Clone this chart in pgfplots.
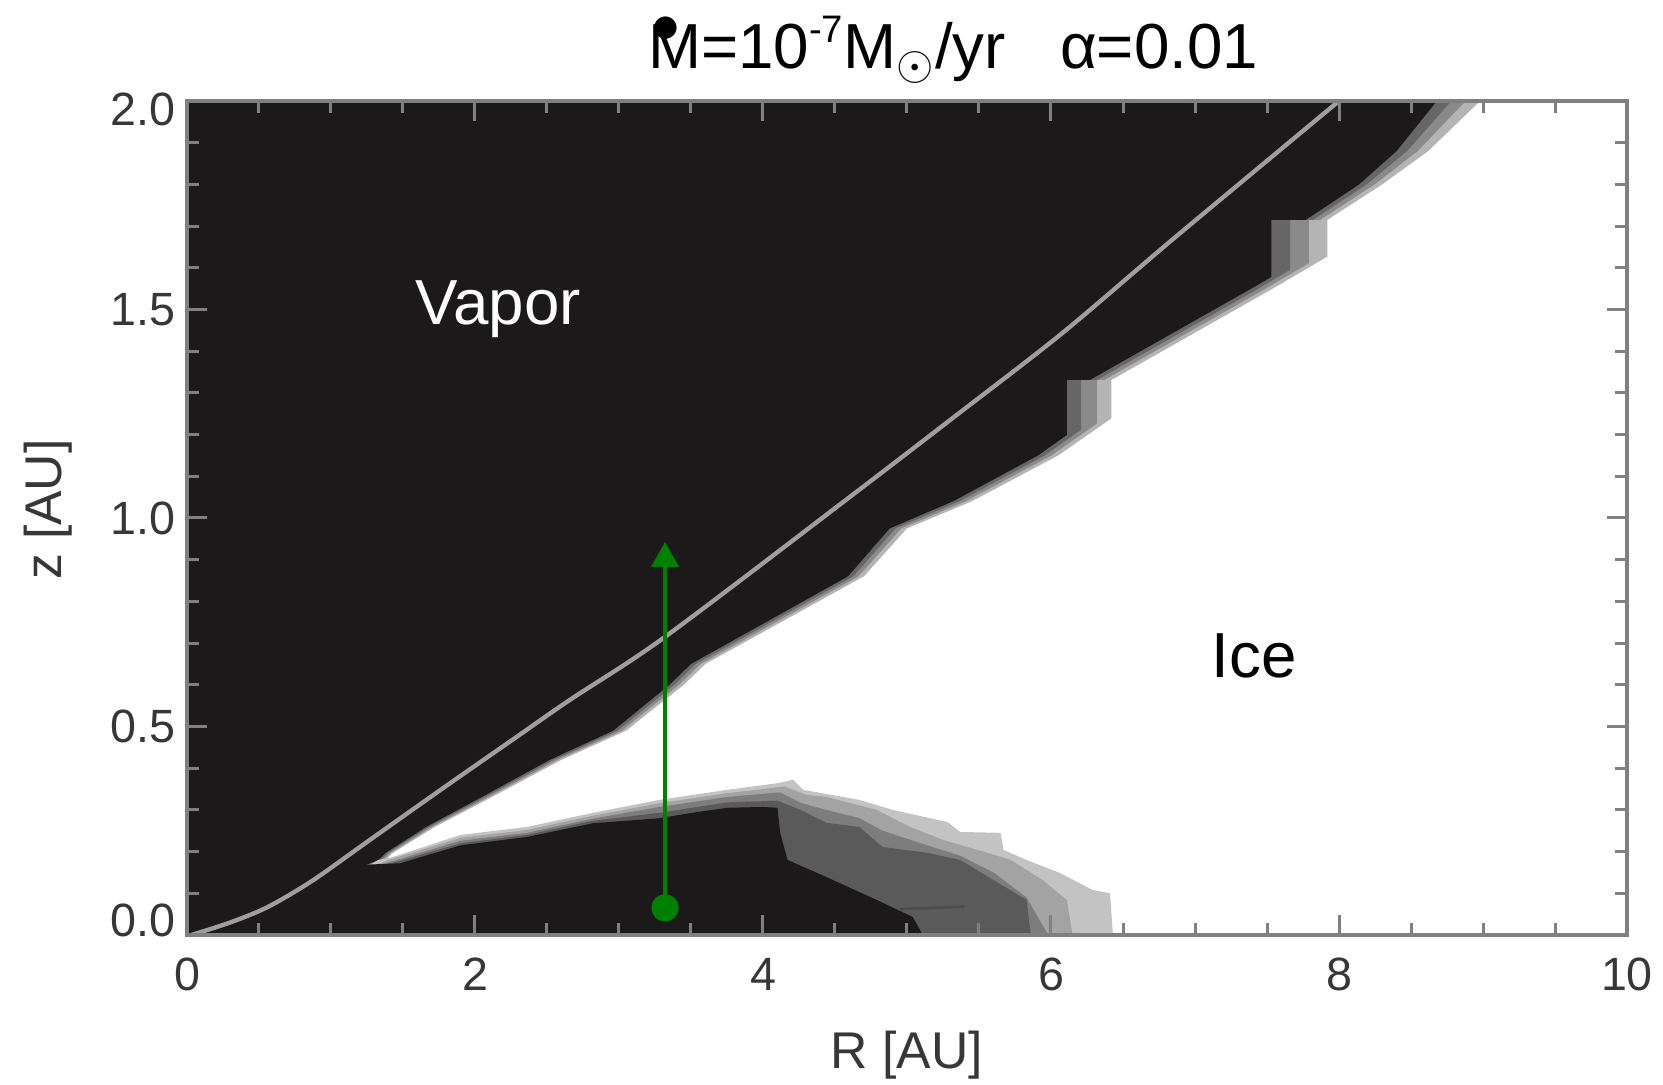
\documentclass[border=0pt]{standalone}
\usepackage{fontspec}
\setmainfont{Liberation Sans}
\usepackage{pgfplots}
\pgfplotsset{compat=1.18}
\usetikzlibrary{arrows.meta}
\definecolor{vblack}{RGB}{28,25,26}
\definecolor{frame}{RGB}{128,128,128}
\definecolor{tickc}{RGB}{55,55,55}
\definecolor{bandL}{RGB}{180,180,180}
\definecolor{bandM}{RGB}{138,138,138}
\definecolor{bandD}{RGB}{102,102,102}
\definecolor{lowA}{RGB}{195,195,195}
\definecolor{lowB}{RGB}{163,163,163}
\definecolor{lowC}{RGB}{125,125,125}
\definecolor{lowD}{RGB}{90,90,90}
\definecolor{curve}{RGB}{158,158,158}
\definecolor{arrowgreen}{RGB}{0,128,0}
\begin{document}
\begin{tikzpicture}
\path[use as bounding box] (-56.1pt,-45pt) rectangle (442.8pt,280.5pt);
\begin{axis}[
  at={(0pt,0pt)}, anchor=south west,
  scale only axis, width=432pt, height=250.2pt,
  xmin=0, xmax=10, ymin=0, ymax=2,
  axis on top,
  xtick={0,2,4,6,8,10}, xticklabels={0,2,4,6,8,10},
  minor x tick num=3,
  ytick={0,0.5,1,1.5,2}, yticklabels={,0.5,1.0,1.5,},
  minor y tick num=4,
  extra y ticks={0.036,1.98}, extra y tick labels={0.0,2.0},
  extra y tick style={major tick length=0pt},
  /pgf/number format/assume math mode=true,
  tick align=inside,
  major tick length=6pt, minor tick length=3.6pt,
  tick style={draw=frame, line width=0.9pt},
  axis line style={draw=frame, line width=1.2pt},
  tick label style={font=\fontsize{14}{16}\selectfont, text=tickc},
  xticklabel style={yshift=-3.4pt},
  xlabel={R [AU]}, ylabel={z [AU]},
  every axis x label/.style={at={([yshift=-36pt]rel axis cs:0.5,0)}, anchor=center, font=\fontsize{15.5}{18}\selectfont, text=tickc},
  every axis y label/.style={at={([xshift=-41.7pt]rel axis cs:0,0.51)}, rotate=90, anchor=center, font=\fontsize{15.5}{18}\selectfont, text=tickc},
  title={\rlap{\hspace{1.1pt}\raisebox{7.8pt}{\fontsize{16}{16}\selectfont$\bullet$}}M=10\raisebox{0.42em}{\fontsize{11.5}{12}\selectfont -7}M$_{\odot}$/yr\hspace{0.85em}α=0.01},
  every axis title/.style={at={(rel axis cs:0.532,1)}, anchor=base, yshift=9.6pt, font=\fontsize{19.1}{22}\selectfont},
  no markers,
]
% vapor side bands
\addplot[fill=bandL, draw=none, forget plot] coordinates {(0,0) (0,2) (8.98,2.0) (8.62,1.88) (8.30,1.80) (7.92,1.715) (7.92,1.627) (7.54,1.55) (6.42,1.331) (6.42,1.239) (6.05,1.15) (5.45,1.04) (5.00,0.975) (4.70,0.86) (3.60,0.65) (3.45,0.60) (3.05,0.49) (2.60,0.42) (2.08,0.324) (1.72,0.259) (1.43,0.197) (1.38,0.18)};
\addplot[fill=bandM, draw=none, forget plot] coordinates {(0,0) (0,2) (8.88,2.0) (8.547,1.88) (8.247,1.80) (7.87,1.715) (7.79,1.715) (7.79,1.611) (7.49,1.55) (6.37,1.331) (6.32,1.331) (6.32,1.227) (6.003,1.15) (5.407,1.04) (4.96,0.975) (4.663,0.86) (3.567,0.65) (3.417,0.60) (3.02,0.49) (2.573,0.42) (2.057,0.324) (1.70,0.259) (1.413,0.197) (1.363,0.18)};
\addplot[fill=bandD, draw=none, forget plot] coordinates {(0,0) (0,2) (8.78,2.0) (8.473,1.88) (8.193,1.80) (7.82,1.715) (7.66,1.715) (7.66,1.595) (7.44,1.55) (6.32,1.331) (6.21,1.331) (6.21,1.212) (5.957,1.15) (5.363,1.04) (4.92,0.975) (4.627,0.86) (3.533,0.65) (3.383,0.60) (2.99,0.49) (2.547,0.42) (2.033,0.324) (1.68,0.259) (1.397,0.197) (1.347,0.18)};
\addplot[fill=vblack, draw=none, forget plot] coordinates {(0,0) (0,2) (8.68,2.0) (8.40,1.88) (8.14,1.80) (7.77,1.715) (7.53,1.715) (7.53,1.578) (7.39,1.55) (6.27,1.331) (6.11,1.331) (6.11,1.199) (5.91,1.15) (5.32,1.04) (4.88,0.975) (4.59,0.86) (3.50,0.65) (3.35,0.60) (2.96,0.49) (2.52,0.42) (2.01,0.324) (1.66,0.259) (1.38,0.197) (1.33,0.18)};
% lower blob layers
\addplot[fill=lowA, draw=none, forget plot] coordinates {(0,0) (0,0.08) (1.2,0.155) (1.33,0.180) (1.43,0.187) (1.90,0.240) (2.36,0.259) (2.82,0.293) (3.28,0.324) (3.75,0.348) (4.10,0.364) (4.21,0.372) (4.28,0.348) (4.67,0.324) (4.90,0.300) (5.28,0.271) (5.37,0.247) (5.65,0.245) (5.67,0.204) (5.83,0.180) (6.06,0.149) (6.29,0.108) (6.41,0.100) (6.43,0)};
\addplot[fill=lowB, draw=none, forget plot] coordinates {(0,0) (0,0.08) (1.2,0.155) (1.40,0.180) (1.90,0.233) (2.36,0.252) (2.82,0.286) (3.28,0.316) (3.75,0.340) (4.15,0.356) (4.30,0.336) (4.44,0.331) (4.79,0.300) (5.02,0.259) (5.25,0.228) (5.49,0.204) (5.72,0.180) (5.94,0.132) (6.11,0.084) (6.15,0)};
\addplot[fill=lowC, draw=none, forget plot] coordinates {(0,0) (0,0.08) (1.2,0.155) (1.44,0.178) (1.90,0.226) (2.36,0.245) (2.82,0.279) (3.28,0.307) (3.75,0.331) (4.12,0.342) (4.26,0.317) (4.44,0.300) (4.67,0.280) (4.83,0.250) (5.14,0.215) (5.37,0.190) (5.60,0.150) (5.83,0.090) (5.98,0)};
\addplot[fill=lowD, draw=none, forget plot] coordinates {(0,0) (0,0.08) (1.2,0.155) (1.46,0.176) (1.90,0.220) (2.36,0.240) (2.82,0.274) (3.28,0.293) (3.75,0.318) (4.10,0.322) (4.26,0.300) (4.44,0.269) (4.67,0.259) (4.83,0.211) (5.14,0.197) (5.37,0.180) (5.60,0.132) (5.83,0.084) (5.86,0)};
\addplot[fill=vblack, draw=none, forget plot] coordinates {(0,0) (0,0.14) (1.0,0.165) (1.48,0.172) (1.90,0.215) (2.36,0.235) (2.82,0.268) (3.28,0.280) (3.51,0.293) (3.75,0.305) (4.00,0.307) (4.10,0.305) (4.12,0.245) (4.17,0.180) (4.44,0.139) (4.79,0.084) (5.04,0.043) (5.11,0)};
\addplot[draw=black!70, line width=0.8pt, forget plot] coordinates {(4.95,0.062) (5.40,0.068)};
% gray curve
\addplot[draw=curve, line width=1.3pt, smooth, forget plot] coordinates {(0.03,0.0) (0.30,0.03) (0.56,0.067) (0.87,0.13) (1.27,0.228) (1.79,0.355) (2.26,0.468) (2.66,0.564) (3.32,0.715) (4.59,1.047) (5.33,1.243) (6.07,1.441) (6.81,1.658) (7.54,1.868) (8.0,2.0)};
% arrow
\addplot[draw=arrowgreen, line width=1.4pt, -{Triangle[length=7.5pt,width=8pt]}, forget plot] coordinates {(3.32,0.065) (3.32,0.943)};
\addplot[only marks, mark=*, mark size=3.9pt, color=arrowgreen, forget plot] coordinates {(3.32,0.065)};
\node[text=white, font=\fontsize{19.1}{22}\selectfont] at (axis cs:2.16,1.50) {Vapor};
\node[text=black, font=\fontsize{19.1}{22}\selectfont] at (axis cs:7.41,0.670) {Ice};
\end{axis}
\end{tikzpicture}
\end{document}
